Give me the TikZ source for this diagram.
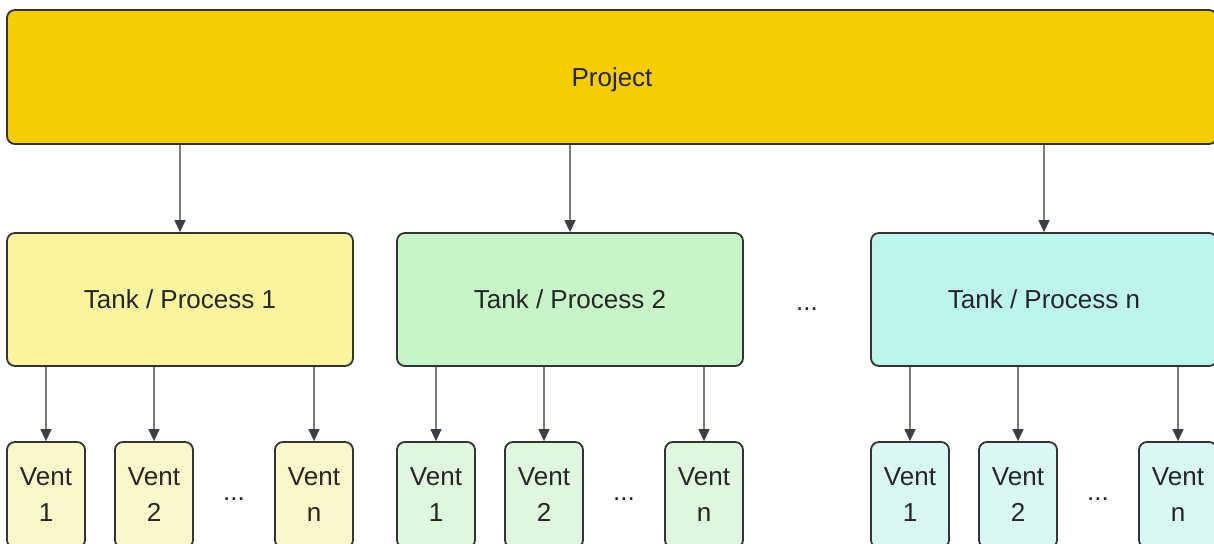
\documentclass[tikz,border=0pt]{standalone}
\usepackage{fontspec}
\setmainfont{Liberation Sans}
\usetikzlibrary{arrows.meta}
\definecolor{projfill}{HTML}{F5CD00}
\definecolor{tankA}{HTML}{F9F49D}
\definecolor{tankB}{HTML}{C8F5C7}
\definecolor{tankC}{HTML}{BDF4EC}
\definecolor{ventA}{HTML}{FAF8CA}
\definecolor{ventB}{HTML}{DFF7DC}
\definecolor{ventC}{HTML}{D9F7F3}
\definecolor{edgecol}{HTML}{333333}
\definecolor{linkcol}{HTML}{7A7C80}
\definecolor{headcol}{HTML}{3A3F47}
\begin{document}
\begin{tikzpicture}[x=1pt,y=-1pt,
  box/.style={draw=edgecol,line width=1.8pt,rounded corners=8pt,inner sep=0pt,
    font=\fontsize{26}{36}\selectfont,text=black!85,align=center},
  projbox/.style={box,fill=projfill,minimum width=1210pt,minimum height=134pt},
  tankbox/.style={box,minimum width=346pt,minimum height=133pt},
  ventbox/.style={box,minimum width=78pt,minimum height=106pt},
  link/.style={draw=linkcol,line width=1.4pt,
    -{Triangle[length=12pt,width=11pt,color=headcol]}},
  gap/.style={font=\fontsize{26}{28}\selectfont,text=black!85}]
\useasboundingbox (0,0) rectangle (1214,543);
\clip (0,0) rectangle (1214,543);

% top level
\node[projbox] (proj) at (612,77) {};
\node[gap] (projlabel) at ([yshift=-3pt]proj.center) {Project};

% second level
\node[tankbox,fill=tankA] (t1) at (180,299.5) {Tank / Process 1};
\node[tankbox,fill=tankB] (t2) at (570,299.5) {Tank / Process 2};
\node[tankbox,fill=tankC] (tn) at (1044,299.5) {Tank / Process n};
\node[gap] (dt) at (807,309) {...};

% third level
\foreach \g/\x/\c in {a/7/ventA, b/397/ventB, c/871/ventC}{
  \node[ventbox,fill=\c] (\g1) at (\x+39,495) {Vent\\1};
  \node[ventbox,fill=\c] (\g2) at (\x+147,495) {Vent\\2};
  \node[ventbox,fill=\c] (\g3) at (\x+307,495) {Vent\\n};
  \node[gap] (\g d) at (\x+227,499) {...};
}

% connectors
\draw[link] (proj.south -| t1) -- (t1.north);
\draw[link] (proj.south -| t2) -- (t2.north);
\draw[link] (proj.south -| tn) -- (tn.north);
\foreach \g/\t in {a/t1, b/t2, c/tn}{
  \foreach \i in {1,2,3}{
    \draw[link] (\t.south -| \g\i) -- (\g\i.north);
  }
}
\end{tikzpicture}
\end{document}
